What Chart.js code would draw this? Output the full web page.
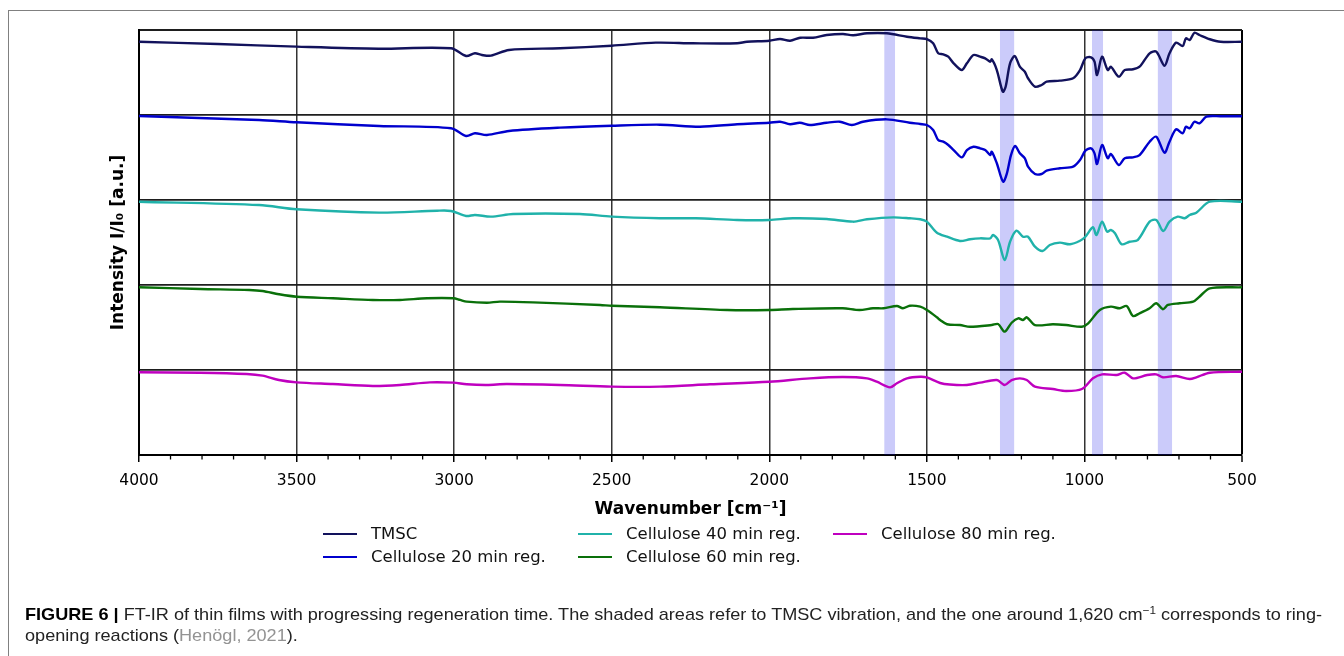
<!DOCTYPE html>
<html>
<head>
<meta charset="utf-8">
<script src="https://cdn.jsdelivr.net/npm/chart.js@4.4.0/dist/chart.umd.min.js"></script>
<style>
html,body{margin:0;padding:0;background:#fff;width:1344px;height:656px;overflow:hidden;}
#frame{position:absolute;left:8px;top:10px;width:1400px;height:700px;border:1px solid #808080;box-sizing:border-box;}
#wrap{position:absolute;left:0;top:0;width:1344px;height:656px;}
.legtxt{position:absolute;font-family:"DejaVu Sans";font-size:16.5px;color:#111;line-height:20px;white-space:nowrap;}
.legline{position:absolute;height:2px;width:34px;}
.cap{position:absolute;left:25px;font-family:"Liberation Sans",Arial,sans-serif;font-size:17px;color:#222;white-space:nowrap;transform-origin:0 0;line-height:20px;}
.cap b{color:#000;}
.cap .ref{color:#939393;}
.cap sup{font-size:11px;line-height:0;vertical-align:6px;}
</style>
</head>
<body>
<div id="frame"></div>
<div id="wrap"><canvas id="c" width="1344" height="656"></canvas></div>
<div id="legend"></div>
<div class="cap" id="cap1" style="top:605px;"><b>FIGURE 6 | </b>FT-IR of thin films with progressing regeneration time. The shaded areas refer to TMSC vibration, and the one around 1,620 cm<sup>−1</sup> corresponds to ring-</div>
<div class="cap" id="cap2" style="top:626px;">opening reactions (<span class="ref">Henögl, 2021</span>).</div>
<script>
// ---- data (wavenumber in cm^-1, normalised intensity within each offset band) ----
const seriesNames = ['TMSC','Cellulose 20 min reg.','Cellulose 40 min reg.','Cellulose 60 min reg.','Cellulose 80 min reg.'];
const seriesColors = ['#12125c','#0000cd','#20b2aa','#0a700a','#bf00bf'];
const seriesOffsets = [4,3,2,1,0];

const tmscWn = [4000,3750,3500,3240,3010,2962,2934,2912,2883,2826,2664,2500,2360,2242,2102,2071,2000,1966,1934,1902,1861,1818,1766,1734,1690,1627,1563,1521,1500,1480,1464,1448,1432,1415,1389,1373,1352,1331,1315,1299,1294,1278,1259,1250,1236,1221,1205,1189,1179,1157,1136,1120,1078,1036,1014,997,979,968,960,944,926,916,891,872,846,825,793,772,746,730,709,688,678,666,651,635,602,568,500];
const tmscI = [0.862,0.835,0.804,0.780,0.785,0.694,0.726,0.706,0.698,0.765,0.785,0.815,0.851,0.844,0.844,0.862,0.874,0.894,0.874,0.909,0.909,0.941,0.953,0.938,0.961,0.961,0.921,0.902,0.894,0.844,0.726,0.714,0.686,0.608,0.529,0.608,0.706,0.686,0.667,0.627,0.655,0.529,0.274,0.333,0.608,0.694,0.568,0.509,0.432,0.333,0.353,0.392,0.404,0.432,0.529,0.667,0.679,0.627,0.471,0.686,0.529,0.568,0.451,0.529,0.538,0.568,0.726,0.745,0.580,0.726,0.851,0.812,0.902,0.882,0.968,0.941,0.891,0.862,0.862];

const c20Wn = [4000,3619,3500,3238,3010,2962,2934,2896,2826,2664,2500,2347,2220,2102,2000,1966,1934,1903,1871,1818,1776,1738,1703,1627,1554,1521,1500,1480,1464,1448,1432,1415,1389,1373,1352,1331,1315,1299,1294,1278,1258,1246,1233,1220,1205,1189,1179,1157,1136,1120,1078,1036,1014,997,979,968,960,944,926,916,891,872,846,825,793,772,746,730,709,688,678,666,651,635,613,568,500];
const c20I = [0.988,0.941,0.914,0.871,0.844,0.753,0.785,0.765,0.812,0.851,0.874,0.886,0.862,0.891,0.909,0.921,0.891,0.909,0.882,0.909,0.921,0.882,0.921,0.949,0.909,0.894,0.882,0.824,0.706,0.686,0.647,0.588,0.502,0.588,0.627,0.608,0.588,0.529,0.568,0.432,0.215,0.314,0.529,0.635,0.549,0.491,0.392,0.306,0.306,0.345,0.373,0.392,0.471,0.580,0.608,0.549,0.424,0.647,0.491,0.541,0.412,0.491,0.502,0.529,0.686,0.745,0.556,0.686,0.832,0.785,0.862,0.844,0.921,0.902,0.980,0.985,0.985];

const c40Wn = [4000,3619,3500,3238,3054,3010,2962,2934,2883,2813,2601,2500,2347,2233,2102,2000,1925,1818,1734,1690,1607,1554,1521,1500,1468,1436,1395,1363,1331,1299,1290,1274,1253,1236,1216,1195,1179,1157,1133,1110,1078,1046,1014,997,973,962,944,928,916,903,882,857,831,793,772,750,730,704,682,666,645,602,500];
const c40I = [0.980,0.941,0.891,0.851,0.874,0.871,0.812,0.824,0.804,0.835,0.835,0.804,0.785,0.785,0.765,0.765,0.785,0.776,0.745,0.773,0.796,0.785,0.773,0.745,0.615,0.568,0.518,0.538,0.549,0.549,0.588,0.529,0.294,0.509,0.639,0.568,0.568,0.451,0.400,0.471,0.498,0.479,0.521,0.568,0.679,0.588,0.745,0.627,0.647,0.608,0.479,0.509,0.529,0.745,0.765,0.635,0.745,0.804,0.785,0.824,0.851,0.980,0.980];

const c60Wn = [4000,3806,3650,3608,3556,3500,3385,3258,3172,3086,3002,2981,2960,2896,2855,2750,2537,2500,2347,2134,2000,1925,1767,1714,1671,1637,1595,1576,1554,1521,1500,1468,1458,1436,1395,1363,1294,1274,1253,1231,1210,1195,1183,1157,1100,1058,1008,988,951,916,888,866,846,825,793,772,751,735,698,655,635,602,500];
const c60I = [0.973,0.953,0.941,0.929,0.891,0.862,0.844,0.824,0.824,0.844,0.844,0.824,0.804,0.792,0.804,0.796,0.765,0.756,0.738,0.706,0.706,0.718,0.726,0.706,0.726,0.726,0.753,0.726,0.756,0.745,0.706,0.620,0.588,0.538,0.529,0.509,0.529,0.541,0.451,0.556,0.608,0.588,0.620,0.529,0.538,0.529,0.509,0.549,0.706,0.745,0.726,0.753,0.635,0.667,0.726,0.785,0.714,0.765,0.785,0.804,0.862,0.961,0.973];

const c80Wn = [4000,3806,3658,3608,3556,3500,3385,3258,3172,3077,3002,2960,2896,2833,2664,2500,2347,2188,2000,1871,1767,1690,1659,1617,1595,1563,1521,1500,1458,1427,1373,1331,1278,1253,1231,1205,1183,1157,1100,1058,1008,973,944,898,872,846,801,772,751,709,666,645,602,500];
const c80I = [0.973,0.968,0.953,0.933,0.882,0.855,0.835,0.812,0.824,0.855,0.851,0.832,0.824,0.835,0.824,0.804,0.804,0.832,0.862,0.902,0.918,0.902,0.862,0.796,0.844,0.902,0.921,0.912,0.847,0.829,0.824,0.851,0.882,0.824,0.882,0.902,0.882,0.804,0.776,0.753,0.776,0.902,0.949,0.941,0.968,0.902,0.941,0.949,0.914,0.929,0.894,0.914,0.968,0.980];

// shaded TMSC vibration regions [from, to] in cm^-1
const shadedBands = [[1635,1601],[1268,1223],[976,941],[767,722]];
const xTickStep = 500;
const xMinorStep = 100;

const wnLists = [tmscWn,c20Wn,c40Wn,c60Wn,c80Wn];
const iLists = [tmscI,c20I,c40I,c60I,c80I];

const datasets = seriesNames.map((name,k)=>({
  label: name,
  data: wnLists[k].map((w,i)=>({x:w, y:iLists[k][i] + seriesOffsets[k]})),
  borderColor: seriesColors[k],
  backgroundColor: seriesColors[k],
  borderWidth: 2.4,
  pointRadius: 0,
  tension: 0.3,
  fill: false
}));

const bandPlugin = {
  id:'bands',
  beforeDatasetsDraw(chart){
    const xs = chart.scales.x, a = chart.chartArea, ctx = chart.ctx;
    ctx.save();
    ctx.fillStyle = 'rgba(20,20,230,0.22)';
    shadedBands.forEach(([w1,w2])=>{
      const p1 = xs.getPixelForValue(w1), p2 = xs.getPixelForValue(w2);
      ctx.fillRect(Math.min(p1,p2), a.top, Math.abs(p2-p1), a.bottom-a.top);
    });
    ctx.restore();
  }
};

const minorTickPlugin = {
  id:'minorTicks',
  afterDraw(chart){
    const xs = chart.scales.x, b = chart.chartArea.bottom, ctx = chart.ctx;
    ctx.save();
    ctx.strokeStyle = '#000';
    ctx.lineWidth = 1.3;
    for(let w = xs.min + xMinorStep; w < xs.max; w += xMinorStep){
      if (w % xTickStep === 0) continue;
      const px = xs.getPixelForValue(w);
      ctx.beginPath(); ctx.moveTo(px, b); ctx.lineTo(px, b + 4.5); ctx.stroke();
    }
    ctx.restore();
  }
};

const chart = new Chart(document.getElementById('c'), {
  type:'line',
  data:{datasets},
  options:{
    responsive:false,
    animation:false,
    layout:{padding:{left:100, top:30, right:102, bottom:131}},
    plugins:{legend:{display:false}, tooltip:{enabled:false}},
    scales:{
      x:{
        type:'linear', reverse:true, min:500, max:4000,
        ticks:{stepSize:xTickStep, autoSkip:false, maxRotation:0, color:'#000', padding:10,
               font:{family:'DejaVu Sans', size:15.5},
               callback:(v)=> String(v)},
        grid:{color:(c)=> (c.tick && (c.tick.value===500)) ? '#000' : '#333',
              lineWidth:(c)=> (c.tick && (c.tick.value===500)) ? 2 : 1.5,
              tickLength:7, tickColor:'#000', tickWidth:1.5},
        border:{color:'#000', width:2},
        title:{display:true, text:'Wavenumber [cm⁻¹]', color:'#000',
               font:{family:'DejaVu Sans', size:17, weight:'bold'}, padding:{top:0,bottom:5}},
        afterFit(s){ s.height = 70; }
      },
      y:{
        min:0, max:5,
        ticks:{display:false, stepSize:1},
        grid:{color:'#1e1e1e', lineWidth:(c)=> (c.tick && c.tick.value===5) ? 2 : 1.7, drawTicks:false},
        border:{color:'#000', width:2},
        title:{display:true, text:'Intensity I/I₀ [a.u.]', color:'#000',
               font:{family:'DejaVu Sans', size:17, weight:'bold'}, padding:{top:8,bottom:0}},
        afterFit(s){ s.width = 39; }
      }
    }
  },
  plugins:[bandPlugin, minorTickPlugin]
});

// legend (matplotlib-style, 3 columns filled column-wise)
const legPos = [[323,534],[323,557],[578,534],[578,557],[833,534]];
const legEl = document.getElementById('legend');
chart.data.datasets.forEach((ds,i)=>{
  const [lx,ly] = legPos[i];
  const ln = document.createElement('div');
  ln.className='legline'; ln.style.left=lx+'px'; ln.style.top=(ly-1)+'px'; ln.style.background=ds.borderColor;
  legEl.appendChild(ln);
  const tx = document.createElement('div');
  tx.className='legtxt'; tx.style.left=(lx+48)+'px'; tx.style.top=(ly-10)+'px'; tx.textContent=ds.label;
  legEl.appendChild(tx);
});

// caption width fit
const c1 = document.getElementById('cap1'), c2 = document.getElementById('cap2');
const sc = 1297 / c1.getBoundingClientRect().width;
c1.style.transform = 'scaleX(' + sc + ')';
c2.style.transform = 'scaleX(' + sc + ')';
</script>
</body>
</html>
